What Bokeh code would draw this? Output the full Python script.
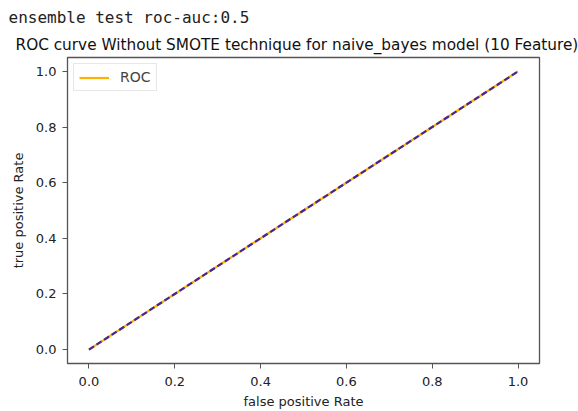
from bokeh.plotting import figure
from bokeh.models import Title, FixedTicker, PrintfTickFormatter, Range1d, Legend, LegendItem
from bokeh.embed import file_html
from bokeh.resources import INLINE

# data
fpr = [0.0, 1.0]
tpr = [0.0, 1.0]
diag_x = [0.0, 1.0]
diag_y = [0.0, 1.0]
ticks = [0.0, 0.2, 0.4, 0.6, 0.8, 1.0]
header_text = "ensemble test roc-auc:0.5"
title_text = "ROC curve Without SMOTE technique for naive_bayes model (10 Feature)"

p = figure(width=578, height=411, output_backend="svg", toolbar_location=None,
           x_range=Range1d(-0.05, 1.05), y_range=Range1d(-0.05, 1.05),
           min_border_left=67, min_border_right=39, min_border_top=57, min_border_bottom=48)
p.title.visible = False

t1 = Title(text=title_text, align="left", offset=-52, text_font="DejaVu Sans",
           text_font_size="15.3px", text_font_style="normal", text_color="#111111", standoff=7)
p.add_layout(t1, "above")
t2 = Title(text=header_text, align="left", offset=-59, text_font="DejaVu Sans Mono",
           text_font_size="16px", text_font_style="normal", text_color="#222222", standoff=8)
p.add_layout(t2, "above")

r1 = p.line(fpr, tpr, line_color="#FFB000", line_width=2.2)
r2 = p.line(diag_x, diag_y, line_color="#43269c", line_width=2.2, line_dash="6 3")

legend = Legend(items=[LegendItem(label="ROC", renderers=[r1])], location="top_left",
                label_text_font="DejaVu Sans", label_text_font_size="14px",
                border_line_color="#d0d0d0", border_line_width=1, glyph_width=30,
                glyph_height=15, label_height=15,
                margin=6, padding=5, spacing=0, label_standoff=11)
p.add_layout(legend)

p.grid.visible = False
p.outline_line_color = "#555555"
p.outline_line_width = 1.3
for ax in (p.xaxis[0], p.yaxis[0]):
    ax.ticker = FixedTicker(ticks=ticks)
    ax.formatter = PrintfTickFormatter(format="%.1f")
    ax.minor_tick_line_color = None
    ax.major_tick_in = 0
    ax.major_tick_out = 5
    ax.major_tick_line_color = "#555555"
    ax.axis_line_color = "#555555"
    ax.major_label_text_font = "DejaVu Sans"
    ax.major_label_text_font_size = "13px"
    ax.major_label_text_color = "#222222"
    ax.axis_label_text_font = "DejaVu Sans"
    ax.axis_label_text_font_size = "13px"
    ax.axis_label_text_font_style = "normal"
    ax.axis_label_text_color = "#222222"
p.xaxis.axis_label = "false positive Rate"
p.yaxis.axis_label = "true positive Rate"
p.xaxis.major_label_standoff = 8
p.yaxis.major_label_standoff = 6
p.xaxis.axis_label_standoff = 5
p.yaxis.axis_label_standoff = 7

open("out.html", "w").write(file_html(p, INLINE))
